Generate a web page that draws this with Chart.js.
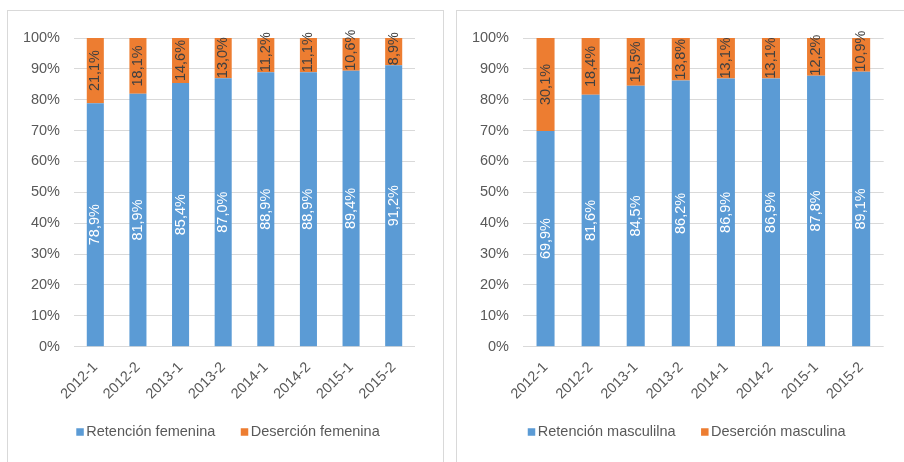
<!DOCTYPE html>
<html>
<head>
<meta charset="utf-8">
<script src="https://cdn.jsdelivr.net/npm/chart.js@4.4.0/dist/chart.umd.min.js"></script>
<style>
  html, body { margin: 0; padding: 0; background: #fff; width: 904px; height: 462px; overflow: hidden; }
  .panel { position: absolute; border: 1px solid #D9D9D9; box-sizing: border-box; background: #fff; }
  #panelF { left: 7px; top: 10px; width: 437px; height: 470px; }
  #panelM { left: 456px; top: 10px; width: 463px; height: 470px; }
  canvas { display: block; }
</style>
</head>
<body>
<div class="panel" id="panelF"><canvas id="chartF" width="435" height="451"></canvas></div>
<div class="panel" id="panelM"><canvas id="chartM" width="461" height="451"></canvas></div>
<script>
// Semesters
const periods = ['2012-1', '2012-2', '2013-1', '2013-2', '2014-1', '2014-2', '2015-1', '2015-2'];

// Women (%)
const retencionFemenina = [78.9, 81.9, 85.4, 87.0, 88.9, 88.9, 89.4, 91.2];
const desercionFemenina = [21.1, 18.1, 14.6, 13.0, 11.2, 11.1, 10.6, 8.9];

// Men (%)
const retencionMasculina = [69.9, 81.6, 84.5, 86.2, 86.9, 86.9, 87.8, 89.1];
const desercionMasculina = [30.1, 18.4, 15.5, 13.8, 13.1, 13.1, 12.2, 10.9];

const BLUE = '#5B9BD5';
const ORANGE = '#ED7D31';
const TEXT = '#595959';
const GRID = '#D9D9D9';
const FONT_FAMILY = '"Liberation Sans", Arial, sans-serif';
const FONT_SIZE = 14.5;

const fmt = v => v.toFixed(1).replace('.', ',') + '%';

// Rotated value labels inside each bar segment
const segmentLabels = {
  id: 'segmentLabels',
  afterDatasetsDraw(chart) {
    const ctx = chart.ctx;
    const area = chart.chartArea;
    ctx.save();
    ctx.font = FONT_SIZE + 'px ' + FONT_FAMILY;
    chart.data.datasets.forEach((ds, i) => {
      const meta = chart.getDatasetMeta(i);
      meta.data.forEach((bar, j) => {
        const text = fmt(ds.data[j]);
        const tw = ctx.measureText(text).width;
        const top = Math.max(bar.y, area.top);
        const segH = bar.base - top;
        // labels longer than their segment sit on the segment base
        const cy = tw > segH ? bar.base - tw / 2 : (top + bar.base) / 2;
        ctx.save();
        ctx.translate(bar.x, cy);
        ctx.rotate(-Math.PI / 2);
        ctx.fillStyle = ds.labelColor;
        ctx.textAlign = 'center';
        ctx.textBaseline = 'middle';
        ctx.fillText(text, 0, 0);
        ctx.restore();
      });
    });
    ctx.restore();
  }
};

// Square-marker legend under the plot
const squareLegend = {
  id: 'squareLegend',
  afterDraw(chart, args, opts) {
    const ctx = chart.ctx;
    ctx.save();
    ctx.font = FONT_SIZE + 'px ' + FONT_FAMILY;
    const box = 7.5, gap = 2.5, between = 25.5;
    const items = chart.data.datasets.map(d => ({
      text: d.label, color: d.backgroundColor, w: ctx.measureText(d.label).width
    }));
    const total = items.reduce((s, it) => s + box + gap + it.w, 0) + between * (items.length - 1);
    let x = opts.centerX - total / 2;
    const y = opts.y;
    items.forEach(it => {
      ctx.fillStyle = it.color;
      ctx.fillRect(x, y - box / 2, box, box);
      x += box + gap;
      ctx.fillStyle = TEXT;
      ctx.textAlign = 'left';
      ctx.textBaseline = 'middle';
      ctx.fillText(it.text, x, y);
      x += it.w + between;
    });
    ctx.restore();
  }
};

function makeChart(id, labelRet, dataRet, labelDes, dataDes, rightPad, legendX) {
  return new Chart(document.getElementById(id), {
    type: 'bar',
    data: {
      labels: periods,
      datasets: [
        { label: labelRet, data: dataRet, backgroundColor: BLUE, labelColor: '#FFFFFF',
          categoryPercentage: 1, barPercentage: 0.4 },
        { label: labelDes, data: dataDes, backgroundColor: ORANGE, labelColor: '#404040',
          categoryPercentage: 1, barPercentage: 0.4 }
      ]
    },
    options: {
      responsive: false,
      animation: false,
      devicePixelRatio: 1,
      layout: { padding: { left: 0, right: rightPad, top: 27, bottom: 0 } },
      plugins: {
        legend: { display: false },
        tooltip: { enabled: false },
        squareLegend: { centerX: legendX, y: 421 }
      },
      scales: {
        x: {
          stacked: true,
          grid: { display: false },
          border: { display: false },
          ticks: {
            color: TEXT,
            font: { family: FONT_FAMILY, size: FONT_SIZE },
            minRotation: 45, maxRotation: 45,
            padding: 4
          },
          afterFit(s) { s.height = 115.3; }
        },
        y: {
          stacked: true,
          min: 0, max: 100,
          grid: { color: GRID, lineWidth: 1, drawTicks: false },
          border: { display: false },
          ticks: {
            stepSize: 10,
            color: TEXT,
            font: { family: FONT_FAMILY, size: FONT_SIZE },
            padding: 14,
            callback: v => v + '%'
          },
          afterFit(s) { s.width = 66; }
        }
      }
    },
    plugins: [segmentLabels, squareLegend]
  });
}

makeChart('chartF', 'Retención femenina', retencionFemenina,
          'Deserción femenina', desercionFemenina, 28, 220);
makeChart('chartM', 'Retención masculilna', retencionMasculina,
          'Deserción masculina', desercionMasculina, 34.3, 229.7);
</script>
</body>
</html>
